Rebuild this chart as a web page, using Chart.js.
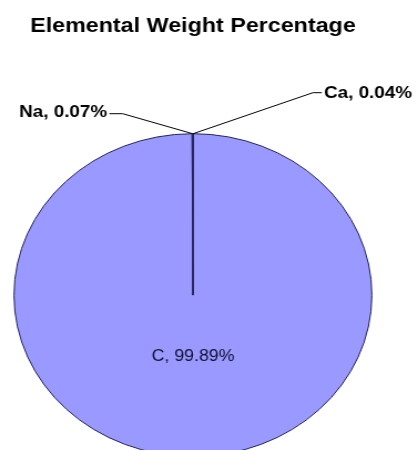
<!DOCTYPE html>
<html>
<head>
<meta charset="utf-8">
<script src="https://cdn.jsdelivr.net/npm/chart.js@4"></script>
<style>
    html, body { margin: 0; padding: 0; background: #fff; overflow: hidden; width: 418px; height: 450px; }
    #wrap { width: 377px; height: 470px; transform: scaleX(1.1088); transform-origin: 0 0; }
</style>
</head>
<body>
<div id="wrap"><canvas id="myChart" width="377" height="470"></canvas></div>
<script>
var labels = ['Ca', 'C', 'Na'];
var values = [0.04, 99.89, 0.07];

// where each data label sits, relative to the slice edge (or inside for the big one)
var labelPlaces = [
    {side: 'right', elbow: [108, -41], end: [116, -41], text: [118, -40]},
    {side: 'inside', dist: 0.38},
    {side: 'left', elbow: [-63, -20], end: [-75, -20], text: [-77, -21]}
];

var pieLabels = {
    id: 'pieLabels',
    afterDraw: function(chart) {
        var ctx = chart.ctx;
        var meta = chart.getDatasetMeta(0);
        ctx.save();
        meta.data.forEach(function(arc, i) {
            var p = arc.getProps(['x', 'y', 'startAngle', 'endAngle', 'outerRadius'], true);
            var mid = (p.startAngle + p.endAngle) / 2;
            var txt = labels[i] + ', ' + values[i].toFixed(2) + '%';
            var place = labelPlaces[i];
            ctx.textBaseline = 'middle';
            ctx.fillStyle = '#000';
            if (place.side == 'inside') {
                ctx.font = '16px "Liberation Sans", Arial, sans-serif';
                ctx.textAlign = 'center';
                ctx.fillStyle = '#111133';
                ctx.fillText(txt, p.x + Math.cos(mid) * p.outerRadius * place.dist,
                                  p.y + Math.sin(mid) * p.outerRadius * place.dist);
                return;
            }
            var ax = p.x + Math.cos(mid) * p.outerRadius;
            var ay = p.y + Math.sin(mid) * p.outerRadius;
            ctx.strokeStyle = '#000';
            ctx.lineWidth = 1;
            ctx.beginPath();
            ctx.moveTo(ax, ay);
            ctx.lineTo(ax + place.elbow[0], ay + place.elbow[1]);
            ctx.lineTo(ax + place.end[0], ay + place.end[1]);
            ctx.stroke();
            ctx.font = 'bold 17px "Liberation Sans", Arial, sans-serif';
            ctx.textAlign = place.side == 'left' ? 'right' : 'left';
            ctx.fillText(txt, ax + place.text[0], ay + place.text[1]);
        });
        ctx.restore();
    }
};

var ctx = document.getElementById('myChart').getContext('2d');
var chart = new Chart(ctx, {
    type: 'pie',
    data: {
        labels: labels,
        datasets: [{
            data: values,
            backgroundColor: '#9999ff',
            borderColor: '#222255',
            borderWidth: 1
        }]
    },
    options: {
        responsive: false,
        animation: false,
        devicePixelRatio: 1,
        layout: {
            padding: {left: 12, right: 41, top: 0, bottom: 13}
        },
        plugins: {
            legend: { display: false },
            tooltip: { enabled: false },
            title: {
                display: true,
                text: 'Elemental Weight Percentage',
                color: '#000',
                font: { family: '"Liberation Sans", Arial, sans-serif', size: 21, weight: 'bold', lineHeight: 1.2 },
                padding: { top: 14, bottom: 94 }
            }
        }
    },
    plugins: [pieLabels]
});
</script>
</body>
</html>
